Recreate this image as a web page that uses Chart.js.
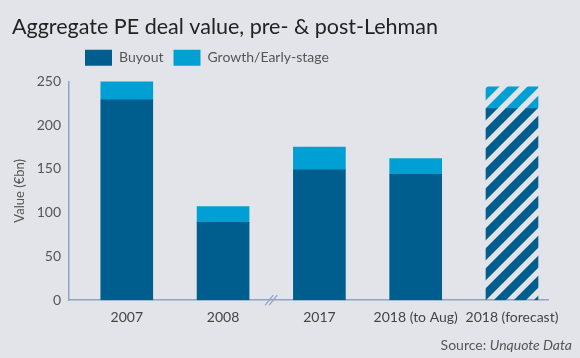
<!DOCTYPE html>
<html>
<head>
<meta charset="utf-8">
<script src="https://cdn.jsdelivr.net/npm/chart.js@4"></script>
<style>
  html, body { margin: 0; padding: 0; background: #e3e4e9; }
  #wrap { width: 580px; height: 358px; }
</style>
</head>
<body>
<div id="wrap"><canvas id="chart" width="580" height="358"></canvas></div>
<script>
const categories = ['2007', '2008', '2017', '2018 (to Aug)', '2018 (forecast)'];
const buyout = [229, 89, 149, 144, 219];
const growth = [23, 18, 26, 18, 25];
const yTicks = [0, 50, 100, 150, 200, 250];
const forecastIndex = 4;

const dark = '#005e8e';
const light = '#00a0d4';
const axisColor = '#8ea6c6';

// hatch pattern for forecast bar
function stripes(color) {
    const c = document.createElement('canvas');
    c.width = 20; c.height = 20;
    const g = c.getContext('2d');
    g.strokeStyle = color;
    g.lineWidth = 8.5;
    g.beginPath();
    g.moveTo(-10, 10); g.lineTo(10, -10);
    g.moveTo(0, 20); g.lineTo(20, 0);
    g.moveTo(10, 30); g.lineTo(30, 10);
    g.stroke();
    return g.createPattern(c, 'repeat');
}
const darkHatch = stripes(dark);
const lightHatch = stripes(light);

function fill(solid, hatch) {
    return ctx => (ctx.type === 'data' && ctx.dataIndex === forecastIndex) ? hatch : solid;
}

const extras = {
    id: 'extras',
    beforeDraw(chart) {
        // legend sits under the title, not at the canvas edge
        chart.legend.left = 75;
    },
    afterDraw(chart) {
        const ctx = chart.ctx;
        const x = chart.scales.x.getPixelForValue(1.5);
        const y = chart.chartArea.bottom;
        ctx.save();
        ctx.strokeStyle = axisColor;
        ctx.lineWidth = 1.3;
        ctx.beginPath();
        ctx.moveTo(x - 6, y + 5); ctx.lineTo(x + 2, y - 5);
        ctx.moveTo(x - 2, y + 5); ctx.lineTo(x + 6, y - 5);
        ctx.stroke();

        // source line
        ctx.textBaseline = 'alphabetic';
        ctx.textAlign = 'left';
        ctx.fillStyle = '#555';
        ctx.font = 'italic 14px Lato';
        const w2 = ctx.measureText('Unquote Data').width;
        ctx.font = '14px Lato';
        const w1 = ctx.measureText('Source: ').width;
        const right = 572;
        ctx.fillText('Source: ', right - w2 - w1, 350);
        ctx.font = 'italic 14px Lato';
        ctx.fillText('Unquote Data', right - w2, 350);
        ctx.restore();
    }
};

new Chart(document.getElementById('chart'), {
    type: 'bar',
    data: {
        datasets: [{
            label: 'Buyout',
            data: buyout.map((v, i) => ({ x: i, y: v })),
            backgroundColor: fill(dark, darkHatch),
            barThickness: 52
        }, {
            label: 'Growth/Early-stage',
            data: growth.map((v, i) => ({ x: i, y: v })),
            backgroundColor: fill(light, lightHatch),
            barThickness: 52
        }]
    },
    options: {
        responsive: false,
        animation: false,
        layout: { padding: { left: 12, right: 32, top: 4, bottom: 23 } },
        plugins: {
            title: {
                display: true,
                text: 'Aggregate PE deal value, pre- & post-Lehman',
                align: 'start',
                color: '#222',
                font: { family: 'Lato', size: 21.5, weight: 'normal' },
                padding: { top: 10, bottom: 0 }
            },
            // empty spacer between legend and plot
            subtitle: {
                display: true,
                text: '',
                weight: 500,
                font: { size: 1 },
                padding: { top: 4.5, bottom: 0 }
            },
            legend: {
                align: 'start',
                labels: {
                    boxWidth: 27,
                    boxHeight: 16,
                    color: '#555',
                    font: { family: 'Lato', size: 14 },
                    padding: 10
                }
            },
            tooltip: { enabled: false }
        },
        scales: {
            x: {
                type: 'linear',
                stacked: true,
                offset: false,
                min: -0.6,
                max: 4.374,
                afterBuildTicks: s => { s.ticks = categories.map((c, i) => ({ value: i })); },
                grid: { display: false, drawTicks: false },
                border: { color: axisColor, width: 1.5 },
                ticks: {
                    color: '#444',
                    font: { family: 'Lato', size: 14 },
                    padding: 9,
                    maxRotation: 0,
                    minRotation: 0,
                    autoSkip: false,
                    callback: v => categories[v]
                }
            },
            y: {
                stacked: true,
                min: 0,
                max: 250,
                afterBuildTicks: s => { s.ticks = yTicks.map(v => ({ value: v })); },
                afterFit: s => { s.width = 57; },
                grid: { display: false, drawTicks: false },
                border: { color: axisColor, width: 1.5 },
                ticks: {
                    color: '#555',
                    font: { family: 'Lato', size: 14 },
                    padding: 8
                },
                title: {
                    display: true,
                    text: 'Value (€bn)',
                    color: '#555',
                    font: { family: 'Lato', size: 13 },
                    padding: 0
                }
            }
        }
    },
    plugins: [extras]
});
</script>
</body>
</html>
